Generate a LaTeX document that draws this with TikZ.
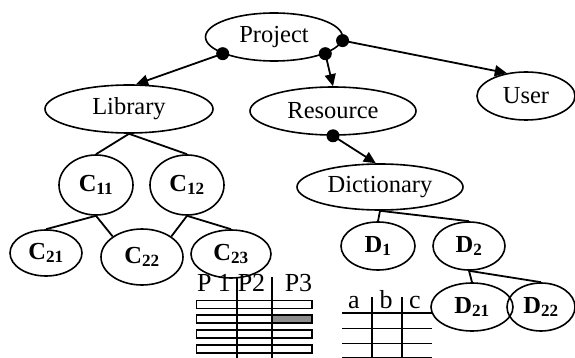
\documentclass[tikz,border=0pt]{standalone}
\usepackage{fontspec}
\setmainfont{Liberation Serif}
\usetikzlibrary{shapes.geometric,arrows.meta}
\begin{document}
\begin{tikzpicture}[x=1pt,y=-1pt,
  ell/.style={ellipse,draw,line width=1.6pt,inner sep=0pt,font=\fontsize{24.5}{28}\selectfont},
  conn/.style={line width=1.8pt},
  arr/.style={conn,-{Triangle[length=12pt,width=11pt]}},
  dotnode/.style={circle,fill,inner sep=0pt,minimum size=13pt},
  tab/.style={line width=1.4pt},
  lbl/.style={font=\fontsize{26}{30}\selectfont,inner sep=0pt,anchor=base}]
\useasboundingbox (0,0) rectangle (575,358);
% nodes
\node[ell,minimum width=137pt,minimum height=48pt] (proj) at (274,37) {Project};
\node[ell,minimum width=168pt,minimum height=48pt] (lib) at (129,109) {Library};
\node[ell,minimum width=166pt,minimum height=48pt] (res) at (333,111) {Resource};
\node[ell,minimum width=98pt,minimum height=48pt] (user) at (526,96) {User};
\node[ell,minimum width=74pt,minimum height=60pt] (c11) at (96,185) {\textbf{C\textsubscript{11}}};
\node[ell,minimum width=74pt,minimum height=60pt] (c12) at (187,185) {\textbf{C\textsubscript{12}}};
\node[ell,minimum width=72pt,minimum height=46pt] (c21) at (46,253) {\textbf{C\textsubscript{21}}};
\node[ell,minimum width=82pt,minimum height=56pt] (c22) at (142,257) {\textbf{C\textsubscript{22}}};
\node[ell,minimum width=80pt,minimum height=48pt] (c23) at (231,254) {\textbf{C\textsubscript{23}}};
\node[ell,minimum width=166pt,minimum height=46pt] (dict) at (380,187) {Dictionary};
\node[ell,minimum width=74pt,minimum height=48pt] (d1) at (378,246) {\textbf{D\textsubscript{1}}};
\node[ell,minimum width=72pt,minimum height=48pt] (d2) at (469,246) {\textbf{D\textsubscript{2}}};
\node[ell,minimum width=82pt,minimum height=48pt] (d21) at (472,307) {\textbf{D\textsubscript{21}}};
\node[ell,minimum width=68pt,minimum height=48pt] (d22) at (541,307) {\textbf{D\textsubscript{22}}};
% dots and arrows
\node[dotnode] (dl) at (proj.198) {};
\node[dotnode] (dr) at (proj.342) {};
\node[dotnode] (du) at (proj.357) {};
\node[dotnode] (dd) at (res.south) {};
\draw[arr] (dl.center) -- (lib.74);
\draw[arr] (dr.center) -- (res.north);
\draw[arr] (du.center) -- (user.130);
\draw[arr] (dd.center) -- (dict.100);
% tree lines
\draw[conn] (lib.south) -- (c11.north);
\draw[conn] (lib.south) -- (c12.north);
\draw[conn] (c11.south) -- (c21.north);
\draw[conn] (c11.south) -- (c22.145);
\draw[conn] (c12.south) -- (c22.35);
\draw[conn] (c12.south) -- (c23.north);
\draw[conn] (dict.south) -- (d1.north);
\draw[conn] (dict.south) -- (d2.north);
\draw[conn] (d2.south) -- (d21.north);
\draw[conn] (d2.south) -- (d22.north);
% table 1
\fill[gray!90] (272,315) rectangle (312,323.3);
\foreach \yy in {300.5,315,330,345} \draw[tab] (196.5,\yy) rectangle (312,\yy+8);
\draw[tab] (237,277) -- (237,358);
\draw[tab] (272,277) -- (272,358);
\node[lbl] (p1) at (214,291.7) {P 1};
\node[lbl] (p2) at (251.5,291.7) {P2};
\node[lbl] (p3) at (298.5,291.7) {P3};
% table 2
\node[lbl] (ta) at (354,308) {a};
\node[lbl] (tb) at (386,308) {b};
\node[lbl] (tc) at (415,308) {c};
\draw[tab] (372,297) -- (372,358);
\draw[tab] (402,297) -- (402,358);
\foreach \yy in {313,328.3,343.3,357.3} \draw[tab] (342,\yy) -- (432,\yy);
\end{tikzpicture}
\end{document}
